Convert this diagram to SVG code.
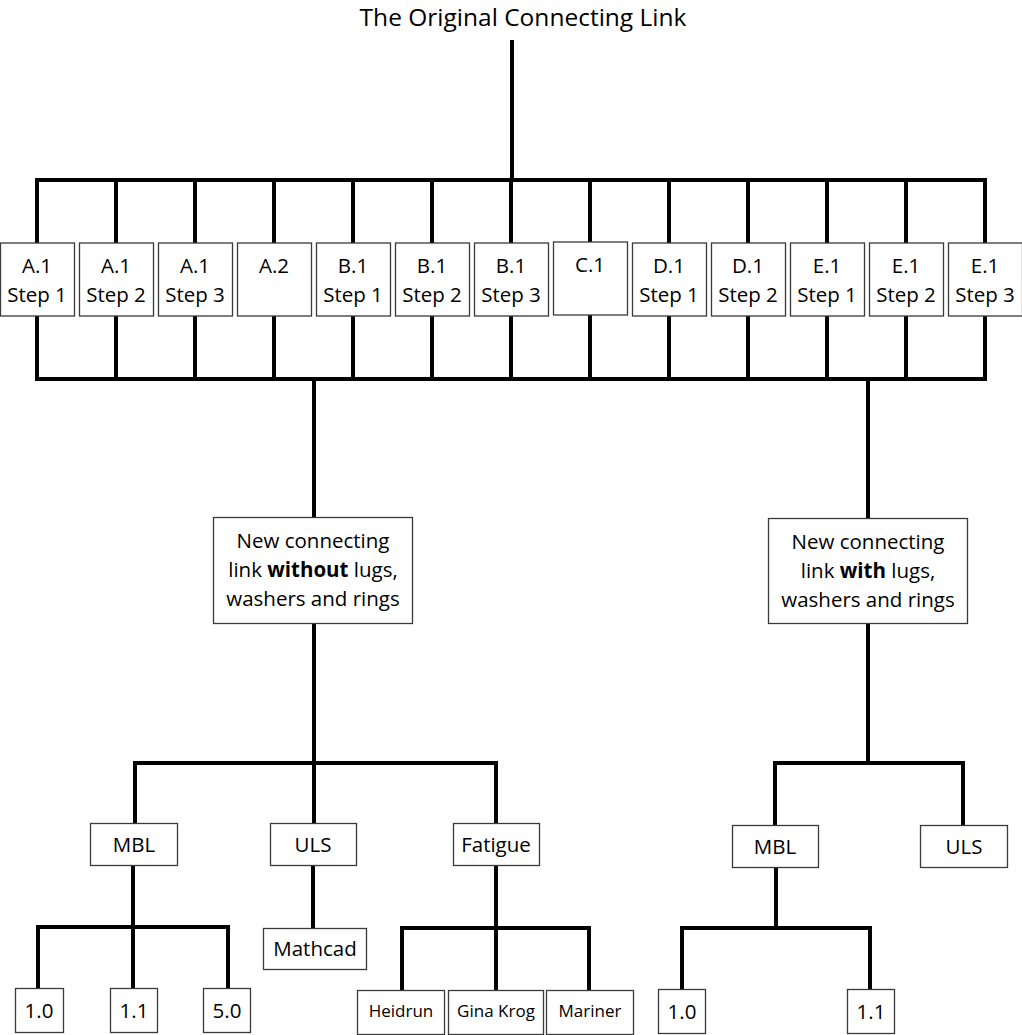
<svg xmlns="http://www.w3.org/2000/svg" width="1022" height="1035" viewBox="0 0 1022 1035">
<style>
.box{fill:#fff;stroke:#3a3a3a;stroke-width:1.3}
.ln{fill:none;stroke:#000;stroke-width:4;stroke-linejoin:miter;stroke-linecap:square}
text{font-family:"Open Sans","Noto Sans","DejaVu Sans",sans-serif;fill:#000;text-anchor:middle}
.t{font-size:20.5px}
.s{font-size:17px}
.title{font-size:24.5px}
.b{font-weight:bold}
</style>
<rect width="1022" height="1035" fill="#fff"/>
<g id="connectors">
<path class="ln" d="M512,42 V180"/>
<path class="ln" d="M37,243 V180 H985 V243"/>
<path class="ln" d="M116,180 V243 M195,180 V243 M274,180 V243 M353,180 V243 M432,180 V243 M511,180 V243 M590,180 V243 M669,180 V243 M748,180 V243 M827,180 V243 M906,180 V243"/>
<path class="ln" d="M37,316 V379 H985 V316"/>
<path class="ln" d="M116,316 V379 M195,316 V379 M274,316 V379 M353,316 V379 M432,316 V379 M511,316 V379 M590,316 V379 M669,316 V379 M748,316 V379 M827,316 V379 M906,316 V379"/>
<path class="ln" d="M314,379 V517"/>
<path class="ln" d="M868,379 V518"/>
<path class="ln" d="M314,624 V763"/>
<path class="ln" d="M135,823 V763 H496 V823"/>
<path class="ln" d="M314,763 V823"/>
<path class="ln" d="M133,865 V927"/>
<path class="ln" d="M38,988 V927 H228 V988"/>
<path class="ln" d="M133,927 V988"/>
<path class="ln" d="M313,865 V928"/>
<path class="ln" d="M496,866 V928"/>
<path class="ln" d="M402,990 V928 H589 V990"/>
<path class="ln" d="M496,928 V990"/>
<path class="ln" d="M868,624 V763"/>
<path class="ln" d="M775,825 V763 H963 V825"/>
<path class="ln" d="M776,867 V928"/>
<path class="ln" d="M682,989 V928 H870 V989"/>
</g>
<g id="title"><text class="title" x="523" y="26">The Original Connecting Link</text></g>
<g id="n-a1s1"><rect class="box" x="0.5" y="243" width="74" height="73"/><text class="t" x="37" y="273">A.1</text><text class="t" x="37" y="302">Step 1</text></g>
<g id="n-a1s2"><rect class="box" x="79.5" y="243" width="74" height="73"/><text class="t" x="116" y="273">A.1</text><text class="t" x="116" y="302">Step 2</text></g>
<g id="n-a1s3"><rect class="box" x="158.5" y="243" width="74" height="73"/><text class="t" x="195" y="273">A.1</text><text class="t" x="195" y="302">Step 3</text></g>
<g id="n-a2"><rect class="box" x="237.5" y="243" width="74" height="73"/><text class="t" x="274" y="273">A.2</text></g>
<g id="n-b1s1"><rect class="box" x="316.5" y="243" width="74" height="73"/><text class="t" x="353" y="273">B.1</text><text class="t" x="353" y="302">Step 1</text></g>
<g id="n-b1s2"><rect class="box" x="395.5" y="243" width="74" height="73"/><text class="t" x="432" y="273">B.1</text><text class="t" x="432" y="302">Step 2</text></g>
<g id="n-b1s3"><rect class="box" x="474.5" y="243" width="74" height="73"/><text class="t" x="511" y="273">B.1</text><text class="t" x="511" y="302">Step 3</text></g>
<g id="n-c1"><rect class="box" x="553.5" y="242" width="74" height="73"/><text class="t" x="590" y="272">C.1</text></g>
<g id="n-d1s1"><rect class="box" x="632.5" y="243" width="74" height="73"/><text class="t" x="669" y="273">D.1</text><text class="t" x="669" y="302">Step 1</text></g>
<g id="n-d1s2"><rect class="box" x="711.5" y="243" width="74" height="73"/><text class="t" x="748" y="273">D.1</text><text class="t" x="748" y="302">Step 2</text></g>
<g id="n-e1s1"><rect class="box" x="790.5" y="243" width="74" height="73"/><text class="t" x="827" y="273">E.1</text><text class="t" x="827" y="302">Step 1</text></g>
<g id="n-e1s2"><rect class="box" x="869.5" y="243" width="74" height="73"/><text class="t" x="906" y="273">E.1</text><text class="t" x="906" y="302">Step 2</text></g>
<g id="n-e1s3"><rect class="box" x="948.5" y="243" width="74" height="73"/><text class="t" x="985" y="273">E.1</text><text class="t" x="985" y="302">Step 3</text></g>
<g id="n-without"><rect class="box" x="213.5" y="517.5" width="199" height="106"/><text class="t" x="313" y="548">New connecting</text><text class="t" x="313" y="577">link <tspan class="b">without</tspan> lugs,</text><text class="t" x="313" y="606">washers and rings</text></g>
<g id="n-with"><rect class="box" x="768.5" y="518.5" width="199" height="105"/><text class="t" x="868" y="549">New connecting</text><text class="t" x="868" y="578">link <tspan class="b">with</tspan> lugs,</text><text class="t" x="868" y="607">washers and rings</text></g>
<g id="n-mbl1"><rect class="box" x="90.5" y="823.5" width="87" height="42"/><text class="t" x="134" y="852">MBL</text></g>
<g id="n-uls1"><rect class="box" x="270.5" y="823.5" width="86" height="42"/><text class="t" x="313" y="852">ULS</text></g>
<g id="n-fatigue"><rect class="box" x="453.5" y="823.5" width="86" height="42"/><text class="t" x="496" y="852">Fatigue</text></g>
<g id="n-mathcad"><rect class="box" x="263.5" y="928.5" width="103" height="41"/><text class="t" x="315" y="956">Mathcad</text></g>
<g id="n-10a"><rect class="box" x="15.5" y="988.5" width="48" height="44"/><text class="t" x="39" y="1018">1.0</text></g>
<g id="n-11a"><rect class="box" x="110.5" y="988.5" width="47" height="44"/><text class="t" x="134" y="1018">1.1</text></g>
<g id="n-50"><rect class="box" x="203.5" y="988.5" width="47" height="44"/><text class="t" x="227" y="1018">5.0</text></g>
<g id="n-heidrun"><rect class="box" x="357.5" y="990.5" width="87" height="44"/><text class="s" x="401" y="1017">Heidrun</text></g>
<g id="n-gina"><rect class="box" x="448.5" y="990.5" width="95" height="44"/><text class="s" x="496" y="1017">Gina Krog</text></g>
<g id="n-mariner"><rect class="box" x="546.5" y="990.5" width="87" height="44"/><text class="s" x="590" y="1017">Mariner</text></g>
<g id="n-mbl2"><rect class="box" x="732.5" y="825.5" width="86" height="42"/><text class="t" x="775" y="854">MBL</text></g>
<g id="n-uls2"><rect class="box" x="920.5" y="825.5" width="87" height="42"/><text class="t" x="964" y="854">ULS</text></g>
<g id="n-10b"><rect class="box" x="658.5" y="989.5" width="47" height="44"/><text class="t" x="682" y="1019">1.0</text></g>
<g id="n-11b"><rect class="box" x="847.5" y="989.5" width="47" height="44"/><text class="t" x="871" y="1019">1.1</text></g>
</svg>
